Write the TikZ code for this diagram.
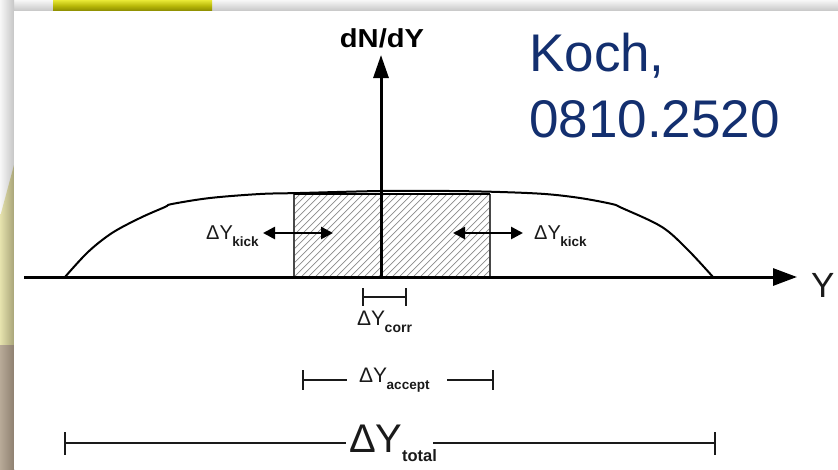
\documentclass[tikz,border=0pt]{standalone}
\usepackage{fontspec}
\setmainfont{Liberation Sans}
\usetikzlibrary{arrows.meta}
\definecolor{navy}{HTML}{132F6F}
\definecolor{ink}{HTML}{1A1A1A}
\definecolor{hatch}{HTML}{8A8A8A}
\definecolor{paleyel}{HTML}{E6E3AE}
\definecolor{olivegr}{HTML}{A8A478}
\definecolor{brownl}{HTML}{B8AA98}
\definecolor{brownd}{HTML}{8E8070}
\newcommand{\dlab}[5]{{\fontsize{#1}{#1}\selectfont \(\)ΔY}\kern-0.5pt\raisebox{-#3pt}{\fontsize{#2}{#2}\selectfont\bfseries #4}#5}
\tikzset{
  lab/.style={inner sep=0pt, anchor=base west, text=ink},
  axis/.style={line width=3pt, -{Triangle[length=24pt,width=17pt]}},
  curveline/.style={line width=2pt},
  kick/.style={line width=2.6pt, {Triangle[length=12pt,width=12pt]}-{Triangle[length=12pt,width=12pt]}},
  brk/.style={line width=1.5pt, ink},
}
\begin{document}
\begin{tikzpicture}[x=1pt,y=-1pt]
\useasboundingbox (0,0) rectangle (838,469);
% ---- slide background ----
\fill[gray!22] (0,0) rectangle (838,469);
\shade[top color=gray!6, bottom color=gray!45] (0,0) rectangle (838,11);
\shade[left color=gray!6, right color=gray!45] (0,0) rectangle (14,469);
\shade[top color=yellow!75!olive!70, bottom color=olive!85!black!80] (53,0) rectangle (212,11);
\shade[left color=paleyel, right color=olivegr] (0,217) -- (14,165) -- (14,345) -- (0,345) -- cycle;
\shade[left color=brownl, right color=brownd] (0,345) rectangle (14,469);
\fill[white] (14,11) rectangle (838,469);
% ---- coordinates ----
\coordinate (yl) at (24,277);
\coordinate (yr) at (797,277);
\coordinate (o) at (381,277);
\coordinate (top) at (381,55);
% ---- hatched acceptance window ----
\begin{scope}
\clip (294,194) rectangle (490,277);
\foreach \x in {210,217,...,500} {\draw[hatch, line width=0.7pt] (\x,277) -- ++(90,-90);}
\end{scope}
\draw[line width=1.5pt, ink!80] (294,277) -- (294,194) (490,194) -- (490,277);
\draw[line width=2pt] (294,194) -- (490,194);
% ---- distribution ----
\draw[curveline] plot[smooth, tension=0.55] coordinates {(65,277) (88,252) (112,233) (140,218) (165,207) (172,204) (210,198) (260,194) (300,193) (381,191) (450,191) (500,192) (545,194) (580,198) (612,204) (622,208) (662,227) (688,250) (713,277)};
% ---- axes ----
\draw[axis] (yl) -- (yr);
\draw[axis, -{Triangle[length=23pt,width=15pt]}] (o) -- (top);
\node[inner sep=0pt, anchor=base] (dndy) at (382,47) {\scalebox{1.12}[1]{\fontsize{26}{26}\selectfont\bfseries dN/dY}};
\node[lab] (ylab) at (811,297) {\fontsize{35}{35}\selectfont Y};
% ---- reference ----
\node[inner sep=0pt, anchor=base west, text=navy] (koch1) at (529,71) {\fontsize{53}{53}\selectfont Koch,};
\node[inner sep=0pt, anchor=base west, text=navy] (koch2) at (529,137) {\fontsize{53}{53}\selectfont 0810.2520};
% ---- kick arrows ----
\coordinate (kl1) at (263,233); \coordinate (kl2) at (333,233);
\coordinate (kr1) at (453,233); \coordinate (kr2) at (523,233);
\draw[kick] (kl1) -- (kl2);
\draw[kick] (kr1) -- (kr2);
\node[lab] (kickL) at (206,239) {\dlab{20}{13.5}{7}{kick}{}};
\node[lab] (kickR) at (534,239) {\dlab{20}{13.5}{7}{kick}{}};
% ---- corr bracket ----
\coordinate (c1) at (363,297); \coordinate (c2) at (406,297);
\draw[brk] (c1) -- (c2);
\draw[brk] (363,288) -- (363,306) (406,288) -- (406,306);
\node[lab] (corr) at (357,325) {\dlab{21}{14}{7}{corr}{}};
% ---- accept bracket ----
\coordinate (a1) at (303,380); \coordinate (a2) at (347,380);
\coordinate (a3) at (447,380); \coordinate (a4) at (493,380);
\draw[brk] (a1) -- (a2) (a3) -- (a4);
\draw[brk] (303,370) -- (303,390) (493,370) -- (493,390);
\node[lab] (accept) at (359,382) {\dlab{21}{13.5}{7}{accept}{}};
% ---- total bracket ----
\coordinate (t1) at (65,443); \coordinate (t2) at (346,443);
\coordinate (t3) at (433,443); \coordinate (t4) at (715,443);
\draw[brk] (t1) -- (t2) (t3) -- (t4);
\draw[brk] (65,432) -- (65,455) (715,432) -- (715,455);
\node[lab] (total) at (349,452) {\dlab{40}{16.5}{9}{total}{}};
\end{tikzpicture}
\end{document}
